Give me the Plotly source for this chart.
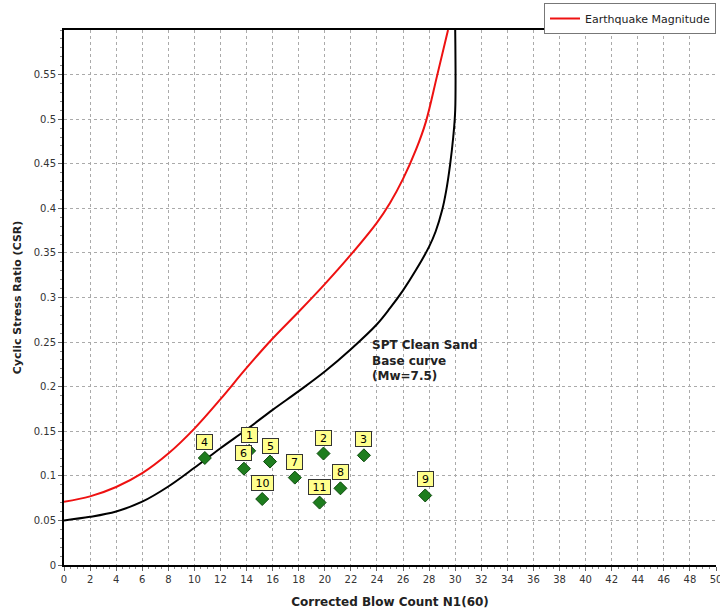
import plotly.graph_objects as go

# Base curve (SPT clean sand, Mw=7.5)
base_n = [0, 2, 4, 6, 8, 10, 12, 14, 16, 18, 20, 22, 24, 25, 26, 27, 28, 28.5, 29, 29.3, 29.6, 29.85, 30.0, 30.0]
base_csr = [0.050, 0.054, 0.060, 0.071, 0.088, 0.109, 0.131, 0.152, 0.174, 0.195, 0.217, 0.242, 0.270, 0.288,
            0.308, 0.331, 0.357, 0.374, 0.398, 0.419, 0.448, 0.480, 0.510, 0.600]

# Earthquake magnitude scaled curve
eq_n = [0, 2, 4, 6, 8, 10, 12, 14, 16, 18, 20, 22, 24, 25, 26, 27, 27.75, 28.6, 29.45]
eq_csr = [0.071, 0.077, 0.0875, 0.103, 0.125, 0.153, 0.186, 0.221, 0.254, 0.284, 0.315, 0.348, 0.384, 0.406,
          0.433, 0.466, 0.497, 0.548, 0.600]

# Sample points
pt_labels = ["1", "2", "3", "4", "5", "6", "7", "8", "9", "10", "11"]
pt_n = [14.2, 19.9, 23.0, 10.8, 15.8, 13.8, 17.7, 21.2, 27.7, 15.2, 19.6]
pt_csr = [0.128, 0.125, 0.123, 0.120, 0.116, 0.108, 0.098, 0.086, 0.078, 0.074, 0.070]

x_ticks = list(range(0, 52, 2))
y_ticks = [0, 0.05, 0.1, 0.15, 0.2, 0.25, 0.3, 0.35, 0.4, 0.45, 0.5, 0.55]
y_tick_text = ["0", "0.05", "0.1", "0.15", "0.2", "0.25", "0.3", "0.35", "0.4", "0.45", "0.5", "0.55"]

fig = go.Figure()

fig.add_trace(go.Scatter(x=base_n, y=base_csr, mode="lines",
                         line=dict(color="black", width=2, shape="spline", smoothing=1.0),
                         showlegend=False, hoverinfo="skip"))
fig.add_trace(go.Scatter(x=eq_n, y=eq_csr, mode="lines",
                         line=dict(color="#ee1111", width=2, shape="spline", smoothing=1.0),
                         name="Earthquake Magnitude"))
fig.add_trace(go.Scatter(x=pt_n, y=pt_csr, mode="markers",
                         marker=dict(symbol="diamond", size=10, color="#1e7d1e", line=dict(color="#0b4a0b", width=1)),
                         showlegend=False))

for lab, xv, yv in zip(pt_labels, pt_n, pt_csr):
    fig.add_annotation(x=xv, y=yv, text=lab, showarrow=False, yshift=16,
                       width=13 if len(lab) == 1 else 19, height=12,
                       font=dict(family="DejaVu Sans", size=11, color="black"),
                       bgcolor="#ffff8c", bordercolor="#333333", borderwidth=1, borderpad=1)

fig.add_annotation(x=23.5, y=0.229, text="<b>SPT Clean Sand<br>Base curve<br>(Mw=7.5)</b>", showarrow=False,
                   xanchor="left", yanchor="middle", align="left",
                   font=dict(family="DejaVu Sans", size=12, color="#222222"))

grid = dict(showgrid=True, gridcolor="#aaaaaa", griddash="dot", gridwidth=1)

fig.update_xaxes(range=[0, 50], tickvals=x_ticks, ticks="outside", ticklen=4, tickcolor="#666666",
                 tickfont=dict(family="DejaVu Sans", size=10, color="#333333"), ticklabeloverflow="allow",
                 showline=True, linecolor="black", linewidth=2, mirror=True, zeroline=False,
                 minor=dict(dtick=0.5, ticks="outside", ticklen=2, tickcolor="#888888", showgrid=False),
                 title=dict(text="<b>Corrected Blow Count N1(60)</b>",
                            font=dict(family="DejaVu Sans", size=12, color="#222222"), standoff=14),
                 **grid)
fig.update_yaxes(range=[0, 0.6], tickvals=y_ticks, ticktext=y_tick_text, ticks="outside", ticklen=4,
                 tickcolor="#666666", tickfont=dict(family="DejaVu Sans", size=10, color="#333333"),
                 showline=True, linecolor="black", linewidth=2, zeroline=False,
                 minor=dict(dtick=0.01, ticks="outside", ticklen=2, tickcolor="#888888", showgrid=False),
                 title=dict(text="<b>Cyclic Stress Ratio (CSR)</b>",
                            font=dict(family="DejaVu Sans", size=11, color="#222222"), standoff=10),
                 **grid)

fig.update_layout(
    width=720, height=615,
    margin=dict(l=64, r=4, t=30, b=50, autoexpand=False),
    plot_bgcolor="white", paper_bgcolor="white",
    legend=dict(x=716 / 720, xref="container", xanchor="right", y=1 - 3 / 615, yref="container", yanchor="top",
                bgcolor="white", bordercolor="#777777", borderwidth=1,
                font=dict(family="DejaVu Sans", size=11, color="#222222"), itemwidth=30),
    showlegend=True,
)

fig.write_html("out.html")
